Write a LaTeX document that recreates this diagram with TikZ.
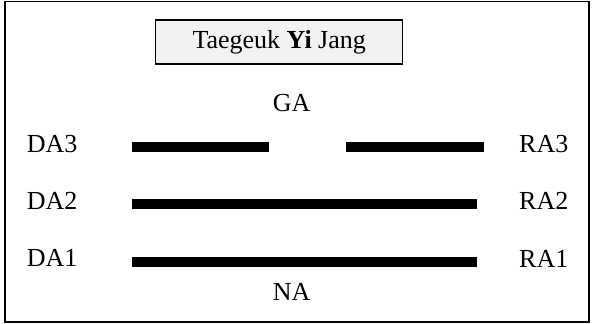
\documentclass[tikz,border=0pt]{standalone}
\usepackage{fontspec}
\setmainfont{Liberation Serif}
\begin{document}
\begin{tikzpicture}[x=1pt,y=-1pt,
  lbl/.style={inner sep=0pt,anchor=base west,font=\fontsize{26}{30}\selectfont},
  bar/.style={line width=10pt,line cap=butt}]
\useasboundingbox (0,0) rectangle (592,324);
\draw[line width=1.4pt] (5,1.5) rectangle (589,322);
\node[draw,line width=1.1pt,fill=black!5,minimum width=247pt,minimum height=44pt,inner sep=0pt,
  font=\fontsize{26}{30}\selectfont] (title) at (279.2,42) {Taegeuk \textbf{Yi} Jang};
\node[lbl,anchor=base] (ga) at (291.7,111.7) {GA};
\node[lbl,anchor=base] (na) at (291.7,300) {NA};
\node[lbl] (da3) at (26.7,152.7) {DA3};
\node[lbl] (da2) at (26.7,209) {DA2};
\node[lbl] (da1) at (26.7,266.7) {DA1};
\node[lbl] (ra3) at (519,152.7) {RA3};
\node[lbl] (ra2) at (519,209.5) {RA2};
\node[lbl] (ra1) at (519,267) {RA1};
\draw[bar] (131.7,146.7) -- (269.3,146.7);
\draw[bar] (345.7,146.7) -- (484,146.7);
\draw[bar] (131.7,204) -- (476.7,204);
\draw[bar] (131.7,262.3) -- (476.7,262.3);
\end{tikzpicture}
\end{document}
